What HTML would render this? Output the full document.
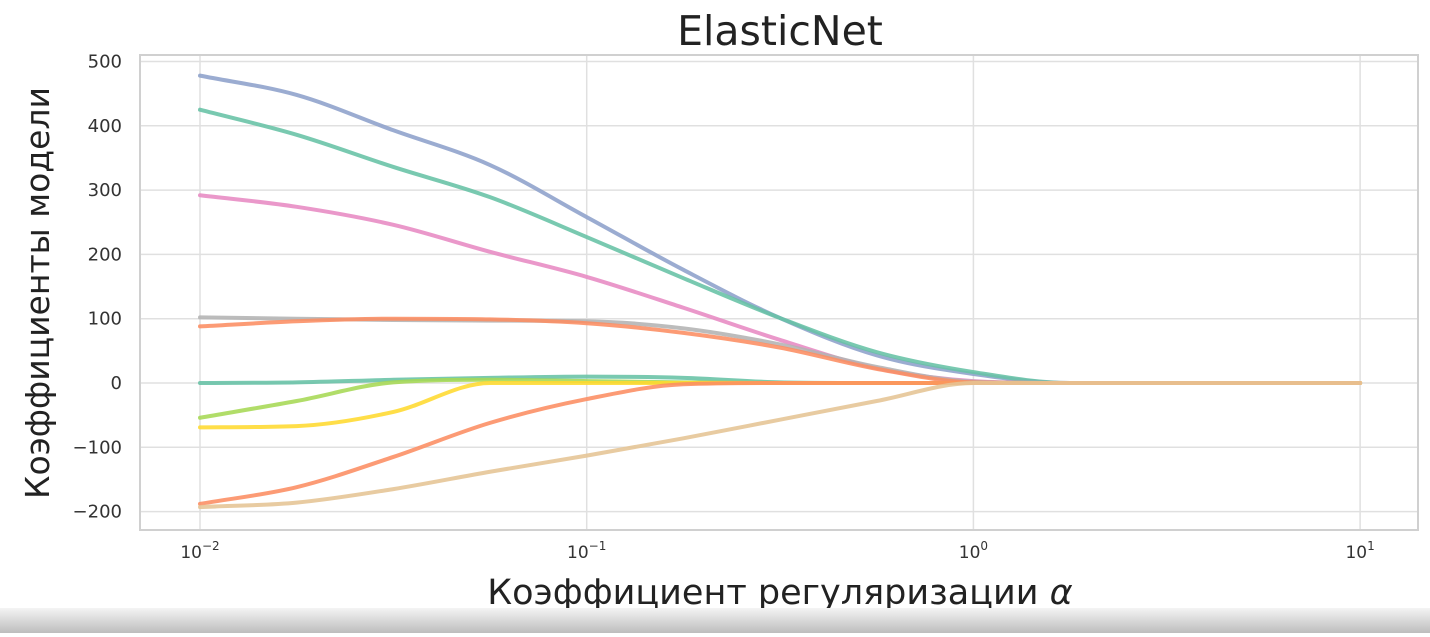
<!DOCTYPE html>
<html><head><meta charset="utf-8"><style>
body{margin:0;background:#fff;width:1430px;height:633px;overflow:hidden;font-family:"DejaVu Sans","Liberation Sans",sans-serif}
</style></head><body>
<svg id="c" width="1430" height="633"></svg>
<div style="position:absolute;left:0;top:608px;width:1430px;height:25px;background:linear-gradient(#f4f4f4,#bdbdbd)"></div>
<script>
const exps=[-2,-1.75,-1.5,-1.25,-1,-0.75,-0.5,-0.25,0,0.25,0.5,0.75,1];
const yTicks=[-200,-100,0,100,200,300,400,500];
const xTickExps=[-2,-1,0,1];
const seriesNames=['blue','teal','pink','gray','orange-a','teal-b','green','yellow','orange-b','tan'];
const seriesColors=['#8da0cb','#66c2a5','#e78ac3','#b3b3b3','#fc8d62','#66c2a5','#a6d854','#ffd92f','#fc8d62','#e5c494'];
const sBlue=[478,448,393,339,258,176,101,43,14,0,0,0,0];
const sTeal=[425,386,336,289,227,163,101,48,17,0,0,0,0];
const sPink=[292,274,246,204,165,117,67,23,3,0,0,0,0];
const sGray=[102,100,98,97,96,85,60,25,2,0,0,0,0];
const sOrangeA=[88,96,100,99,93,78,55,22,1,0,0,0,0];
const sTealB=[0,1,5,8,10,8,1,0,0,0,0,0,0];
const sGreen=[-54,-28,1,5,3,1,0,0,0,0,0,0,0];
const sYellow=[-69,-67,-45,0,0,0,0,0,0,0,0,0,0];
const sOrangeB=[-188,-162,-115,-62,-25,-2,0,0,0,0,0,0,0];
const sTan=[-193,-186,-165,-138,-113,-86,-57,-28,0,0,0,0,0];
const allSeries=[sBlue,sTeal,sPink,sGray,sOrangeA,sTealB,sGreen,sYellow,sOrangeB,sTan];
const NS='http://www.w3.org/2000/svg';
const svg=document.getElementById('c');
const X=e=>200+(e+2)*386.7;
const Y=v=>383-v*0.643;
function mk(t,a,p){const el=document.createElementNS(NS,t);for(const k in a)el.setAttribute(k,a[k]);(p||svg).appendChild(el);return el;}
const frame=mk('rect',{x:140,y:55,width:1278,height:475,fill:'#fff',stroke:'#d0d0d0','stroke-width':2});


yTicks.forEach(v=>{
 const l=mk('line',{x1:141,x2:1417,y1:Y(v),y2:Y(v),stroke:'#e0e0e0','stroke-width':1.5});
 
 
 const t=mk('text',{x:122,y:Y(v)+6,'text-anchor':'end','font-size':18,fill:'#333'});
 t.textContent=(v<0?'\u2212'+(-v):v);
 
 
});
xTickExps.forEach(e=>{
 const l=mk('line',{x1:X(e),x2:X(e),y1:56,y2:529,stroke:'#e0e0e0','stroke-width':1.5});
 
 
 const t=mk('text',{x:X(e),y:558,'text-anchor':'middle','font-size':17,fill:'#333'});
 t.innerHTML='10<tspan dy="-8" font-size="12">'+(e<0?'\u2212'+(-e):e)+'</tspan>';
 
 
});
function pathD(vals){
 const p=vals.map((v,i)=>[X(exps[i]),Y(v)]);
 const n=p.length,dl=[],m=[];
 for(let i=0;i<n-1;i++)dl.push((p[i+1][1]-p[i][1])/(p[i+1][0]-p[i][0]));
 for(let i=0;i<n;i++){
  if(i===0)m.push(dl[0]);else if(i===n-1)m.push(dl[n-2]);
  else m.push(dl[i-1]*dl[i]<=0?0:(dl[i-1]+dl[i])/2);
 }
 for(let i=0;i<n-1;i++){
  if(dl[i]===0){m[i]=0;m[i+1]=0;continue;}
  const a=m[i]/dl[i],b=m[i+1]/dl[i],s=a*a+b*b;
  if(s>9){const t=3/Math.sqrt(s);m[i]=t*a*dl[i];m[i+1]=t*b*dl[i];}
 }
 let d='M'+p[0][0]+','+p[0][1];
 for(let i=0;i<n-1;i++){
  const h=(p[i+1][0]-p[i][0])/3;
  d+='C'+(p[i][0]+h)+','+(p[i][1]+m[i]*h)+' '+(p[i+1][0]-h)+','+(p[i+1][1]-m[i+1]*h)+' '+p[i+1][0]+','+p[i+1][1];
 }
 return d;
}
allSeries.forEach((s,i)=>{
 const pth=mk('path',{d:pathD(s),fill:'none',stroke:seriesColors[i],'stroke-width':4,'stroke-linecap':'round','stroke-opacity':0.88});
 
 
});
const title=mk('text',{x:780,y:45,'text-anchor':'middle','font-size':41,fill:'#222'});
title.textContent='ElasticNet';


const xl=mk('text',{x:780,y:604,'text-anchor':'middle','font-size':35,fill:'#222'});
xl.innerHTML='Коэффициент регуляризации <tspan font-style="italic">α</tspan>';


const yl=mk('text',{x:0,y:0,'text-anchor':'middle','font-size':33,fill:'#222',transform:'translate(49,293) rotate(-90)'});
yl.textContent='Коэффициенты модели';


</script>
</body></html>
